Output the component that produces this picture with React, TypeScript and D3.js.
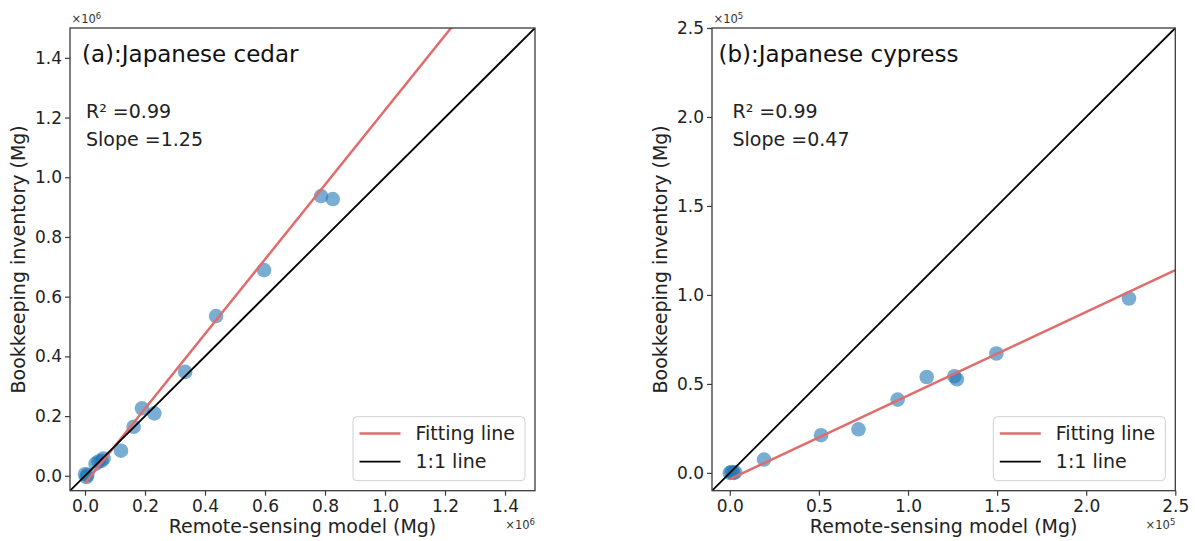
import React, { useRef, useEffect } from 'react';
import * as d3 from 'd3';

// cedar values in units of 1e6 Mg, cypress in units of 1e5 Mg
const cedarRemote = [0.0, 0.005, 0.008, 0.035, 0.045, 0.055, 0.062, 0.12, 0.162, 0.19, 0.231, 0.334, 0.437, 0.597, 0.787, 0.826];
const cedarBookkeeping = [0.005, -0.004, 0.003, 0.04, 0.048, 0.05, 0.058, 0.084, 0.164, 0.226, 0.209, 0.348, 0.535, 0.689, 0.937, 0.927];
const cypressRemote = [0.0, 0.01, 0.02, 0.03, 0.192, 0.512, 0.722, 0.942, 1.105, 1.26, 1.274, 1.496, 2.24];
const cypressBookkeeping = [0.0, 0.005, 0.0, 0.003, 0.075, 0.212, 0.245, 0.412, 0.539, 0.543, 0.526, 0.671, 0.98];

const cedarTicks = [0.0, 0.2, 0.4, 0.6, 0.8, 1.0, 1.2, 1.4];
const cypressTicks = [0.0, 0.5, 1.0, 1.5, 2.0, 2.5];
const legendLabels = ['Fitting line', '1:1 line'];

const FONT = 'DejaVu Sans, sans-serif';
const FIT_COLOR = '#e06c6c';
const SPINE = '#3a3a3a';

const panels = [
    {
        title: '(a):Japanese cedar', r2: 'R² =0.99', slopeText: 'Slope =1.25',
        xs: cedarRemote, ys: cedarBookkeeping, slope: 1.25, intercept: -0.025,
        domain: [-0.05, 1.5], ticks: cedarTicks, exp: '6',
        left: 70, right: 535, titleDx: 12, statDx: 16, ylabelX: 25
    },
    {
        title: '(b):Japanese cypress', r2: 'R² =0.99', slopeText: 'Slope =0.47',
        xs: cypressRemote, ys: cypressBookkeeping, slope: 0.47, intercept: -0.035,
        domain: [-0.1, 2.5], ticks: cypressTicks, exp: '5',
        left: 712, right: 1175.3, titleDx: 6.5, statDx: 20.5, ylabelX: 667
    }
];

const TOP = 28;
const BOTTOM = 490.7;

const App = () => {
    const svgRef = useRef(null);

    useEffect(() => {
        document.body.style.margin = '0';
        const svg = d3.select(svgRef.current);
        svg.selectAll('*').remove();

        panels.forEach((p, i) => {
            const x = d3.scaleLinear().domain(p.domain).range([p.left, p.right]);
            const y = d3.scaleLinear().domain(p.domain).range([BOTTOM, TOP]);
            const g = svg.append('g');

            const clipId = 'clip' + i;
            svg.append('clipPath').attr('id', clipId)
                .append('rect')
                .attr('x', p.left).attr('y', TOP)
                .attr('width', p.right - p.left).attr('height', BOTTOM - TOP);

            // points
            g.append('g').selectAll('circle')
                .data(p.xs)
                .enter()
                .append('circle')
                .attr('cx', d => x(d))
                .attr('cy', (d, k) => y(p.ys[k]))
                .attr('r', 7.3)
                .attr('fill', 'rgba(31,119,180,0.6)');

            // fitting line
            const line = d3.line().x(d => x(d[0])).y(d => y(d[1]));
            const x0 = 0, x1 = p.domain[1];
            g.append('path')
                .attr('clip-path', `url(#${clipId})`)
                .attr('d', line([[x0, p.slope * x0 + p.intercept], [x1, p.slope * x1 + p.intercept]]))
                .attr('stroke', FIT_COLOR).attr('stroke-width', 2.5).attr('fill', 'none');

            // 1:1 line
            g.append('path')
                .attr('clip-path', `url(#${clipId})`)
                .attr('d', line([[p.domain[0], p.domain[0]], [p.domain[1], p.domain[1]]]))
                .attr('stroke', '#000').attr('stroke-width', 1.8).attr('fill', 'none');

            // axes
            const fmt = d3.format('.1f');
            const xAxis = g.append('g')
                .attr('transform', `translate(0,${BOTTOM})`)
                .call(d3.axisBottom(x).tickValues(p.ticks).tickFormat(fmt).tickSize(5).tickPadding(4).tickSizeOuter(0));
            const yAxis = g.append('g')
                .attr('transform', `translate(${p.left},0)`)
                .call(d3.axisLeft(y).tickValues(p.ticks).tickFormat(fmt).tickSize(5).tickPadding(3).tickSizeOuter(0));
            [xAxis, yAxis].forEach(ax => {
                ax.select('.domain').remove();
                ax.selectAll('line').attr('stroke', SPINE).attr('stroke-width', 1.2);
                ax.selectAll('text').attr('font-family', FONT).attr('font-size', 17).attr('fill', '#222');
            });

            // frame
            g.append('rect')
                .attr('x', p.left).attr('y', TOP)
                .attr('width', p.right - p.left).attr('height', BOTTOM - TOP)
                .attr('fill', 'none').attr('stroke', SPINE).attr('stroke-width', 1.3);

            // multipliers
            const mult = (tx, ty, anchor) => {
                const t = g.append('text')
                    .attr('x', tx).attr('y', ty)
                    .attr('text-anchor', anchor)
                    .attr('font-family', FONT).attr('font-size', 11.5).attr('fill', '#333');
                t.append('tspan').text('×10');
                t.append('tspan').attr('dy', -4.5).attr('font-size', 8.5).text(p.exp);
            };
            mult(p.left + 1.5, 23, 'start');
            mult(p.right, 529, 'end');

            // annotations
            g.append('text')
                .attr('x', p.left + p.titleDx).attr('y', 62)
                .attr('font-family', FONT).attr('font-size', 23).attr('fill', '#111')
                .text(p.title);
            g.append('text')
                .attr('x', p.left + p.statDx).attr('y', 117.5)
                .attr('font-family', FONT).attr('font-size', 19).attr('fill', '#222')
                .text(p.r2);
            g.append('text')
                .attr('x', p.left + p.statDx).attr('y', 145.5)
                .attr('font-family', FONT).attr('font-size', 19).attr('fill', '#222')
                .text(p.slopeText);

            // axis labels
            g.append('text')
                .attr('x', (p.left + p.right) / 2).attr('y', 533)
                .attr('text-anchor', 'middle')
                .attr('font-family', FONT).attr('font-size', 19).attr('fill', '#222')
                .text('Remote-sensing model (Mg)');
            g.append('text')
                .attr('transform', `translate(${p.ylabelX},${(TOP + BOTTOM) / 2}) rotate(-90)`)
                .attr('text-anchor', 'middle')
                .attr('font-family', FONT).attr('font-size', 19).attr('fill', '#222')
                .text('Bookkeeping inventory (Mg)');

            // legend
            const lw = 172, lh = 64;
            const lx = p.right - 10 - lw, ly = BOTTOM - 10 - lh;
            const leg = g.append('g').attr('transform', `translate(${lx},${ly})`);
            leg.append('rect')
                .attr('width', lw).attr('height', lh).attr('rx', 4)
                .attr('fill', 'rgba(255,255,255,0.8)').attr('stroke', '#d0d0d0').attr('stroke-width', 1);
            legendLabels.forEach((lab, k) => {
                const ry = 16.7 + k * 28.3;
                leg.append('line')
                    .attr('x1', 6.5).attr('x2', 47.5).attr('y1', ry).attr('y2', ry)
                    .attr('stroke', k === 0 ? FIT_COLOR : '#000')
                    .attr('stroke-width', k === 0 ? 2.5 : 1.8);
                leg.append('text')
                    .attr('x', 62.5).attr('y', ry + 6.8)
                    .attr('font-family', FONT).attr('font-size', 19).attr('fill', '#222')
                    .text(lab);
            });
        });
    }, []);

    return <svg ref={svgRef} width={1195} height={541} style={{ display: 'block', background: '#fff' }}></svg>;
};

export default App;
